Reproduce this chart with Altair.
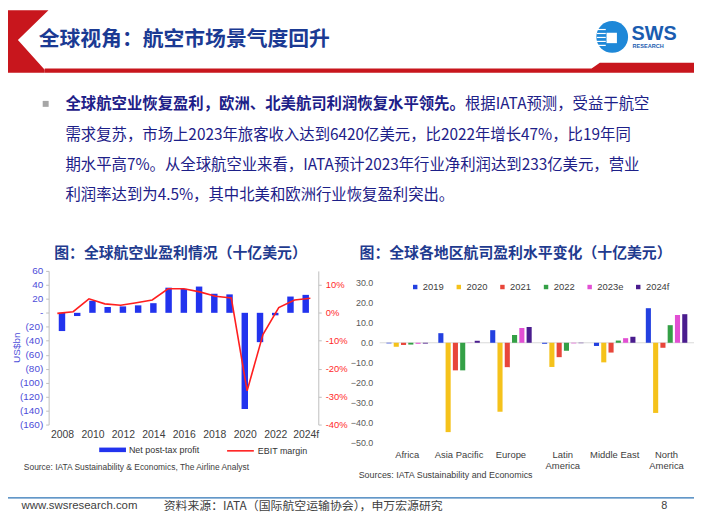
import altair as alt
import pandas as pd

# ---------------- data ----------------
years = list(range(2008, 2025))
net_profit = [-26.1, -4.6, 17.3, 8.3, 9.2, 10.7, 13.8, 36.0, 34.2, 37.6, 27.3, 26.4,
              -137.7, -42.0, -3.6, 23.3, 25.7]
ebit_margin = [-0.2, 0.4, 5.0, 3.2, 2.7, 3.6, 4.6, 8.6, 8.6, 7.5, 5.9, 5.3,
               -27.9, -7.8, 1.9, 4.6, 5.2]
year_ticks = [2008, 2010, 2012, 2014, 2016, 2018, 2020, 2022, 2024]
left_y_ticks = [60, 40, 20, 0, -20, -40, -60, -80, -100, -120, -140, -160]
right_pct_ticks = [10, 0, -10, -20, -30, -40]

regions = ["Africa", "Asia Pacific", "Europe", "Latin America", "Middle East", "North America"]
region_years = ["2019", "2020", "2021", "2022", "2023e", "2024f"]
p2019 = [-0.3, 4.8, 6.3, -0.5, -1.6, 17.3]
p2020 = [-2.0, -44.7, -34.5, -12.1, -9.8, -35.1]
p2021 = [-1.1, -13.8, -12.2, -7.2, -4.9, -2.5]
p2022 = [-0.9, -13.8, 3.9, -4.0, 1.1, 8.8]
p2023e = [-0.5, -0.1, 7.4, -0.3, 2.3, 13.9]
p2024f = [-0.4, 1.0, 7.9, -0.2, 3.0, 14.3]
region_y_ticks = [30, 20, 10, 0, -10, -20, -30, -40, -50]
region_colors = ["#2340e0", "#f5c21b", "#e8463a", "#34a046", "#e24fd3", "#4a1c8e"]

header_title = "全球视角：航空市场景气度回升"
para_bold = "全球航空业恢复盈利，欧洲、北美航司利润恢复水平领先。"
para_l1 = "根据IATA预测，受益于航空"
para_l2 = "需求复苏，市场上2023年旅客收入达到6420亿美元，比2022年增长47%，比19年同"
para_l3 = "期水平高7%。从全球航空业来看，IATA预计2023年行业净利润达到233亿美元，营业"
para_l4 = "利润率达到为4.5%，其中北美和欧洲行业恢复盈利突出。"
left_title = "图：全球航空业盈利情况（十亿美元）"
right_title = "图：全球各地区航司盈利水平变化（十亿美元）"
left_source = "Source: IATA Sustainability & Economics, The Airline Analyst"
right_source = "Sources: IATA Sustainability and Economics"
footer_url = "www.swsresearch.com"
footer_src = "资料来源：IATA（国际航空运输协会），申万宏源研究"
page_no = "8"

# ---------------- layout constants ----------------
W, H = 692, 506
CJK = "Noto Sans CJK SC"
LAT = "Liberation Sans"
NAVY = "#1d2088"
TITLE_BLUE = "#1f3b8f"

one = pd.DataFrame({"k": [0]})


def text_layer(s, x, y, size, color, weight="normal", align="left", font=CJK, baseline="middle"):
    return alt.Chart(one).mark_text(
        text=s, fontSize=size, color=color, fontWeight=weight, align=align,
        baseline=baseline, font=font
    ).encode(x=alt.value(x), y=alt.value(y))


def rule_layer(x1, x2, y1, y2, color, width):
    return alt.Chart(one).mark_rule(color=color, strokeWidth=width).encode(
        x=alt.value(x1), x2=alt.value(x2), y=alt.value(y1), y2=alt.value(y2))


def shape_layer(path, x, y, color, size=4):
    return alt.Chart(one).mark_point(
        shape=path, size=size, filled=True, color=color, opacity=1, strokeWidth=0
    ).encode(x=alt.value(x), y=alt.value(y))


# ---------------- left chart ----------------
df_left = pd.DataFrame({"Year": years, "Profit": net_profit, "EBIT": ebit_margin,
                        "s1": "Net post-tax profit", "s2": "EBIT margin"})

x_left_scale = alt.Scale(domain=[2007.45, 2024.5], range=[41, 313], nice=False, zero=False)

bars_left = alt.Chart(df_left).mark_bar(size=6.5).encode(
    x=alt.X("Year:Q", scale=x_left_scale,
            axis=alt.Axis(orient="bottom", offset=418 - H, values=year_ticks, format="d",
                          labelExpr="datum.value == 2024 ? '2024f' : datum.label",
                          ticks=False, domain=False, grid=False, labelPadding=5,
                          labelFontSize=10.5, labelColor="#404040", labelFont=LAT,
                          labelFlush=False, labelOverlap=False, title=None)),
    y=alt.Y("Profit:Q", stack=None,
            scale=alt.Scale(domain=[-160, 60], range=[418, 263], nice=False, zero=False),
            axis=alt.Axis(orient="left", offset=-41, values=left_y_ticks, grid=False,
                          labelExpr="datum.value == 0 ? '-\u00a0' : (datum.value < 0 ? '(' + format(-datum.value, 'd') + ')' : format(datum.value, 'd') + '\u00a0')",
                          labelFont=LAT, labelFontSize=10, labelColor="#4d4dd9",
                          tickSize=3, tickColor="#bfbfbf", domainColor="#bfbfbf",
                          labelPadding=3, labelOverlap=False, labelFlush=False,
                          title="US$bn", titleColor="#4d4dd9", titleFont=LAT,
                          titleFontSize=10, titleFontWeight="normal",
                          titleX=-32, titleY=340, titleAlign="center",
                          titleBaseline="middle", titleAngle=270)),
    color=alt.Color("s1:N", scale=alt.Scale(domain=["Net post-tax profit"], range=["#2233ee"]),
                    legend=alt.Legend(orient="none", legendX=92, legendY=430, title=None,
                                      symbolType="M-1,-0.17H1V0.17H-1Z", symbolSize=729,
                                      symbolStrokeWidth=0, labelFont=LAT, labelFontSize=9,
                                      labelColor="#333333", labelOffset=3, padding=0)),
)

line_left = alt.Chart(df_left).mark_line(strokeWidth=1.6).encode(
    x=alt.X("Year:Q", scale=x_left_scale, axis=None),
    y=alt.Y("EBIT:Q",
            scale=alt.Scale(domain=[-40, 15], range=[418, 263], nice=False, zero=False),
            axis=alt.Axis(orient="right", offset=313 - W, values=right_pct_ticks, grid=False,
                          labelExpr="datum.value + '%'", labelFont=LAT, labelFontSize=9.5,
                          labelColor="#ff2a2a", tickSize=3, tickColor="#bfbfbf",
                          domainColor="#bfbfbf", labelPadding=4, labelOverlap=False,
                          labelFlush=False, title=None)),
    color=alt.Color("s2:N", scale=alt.Scale(domain=["EBIT margin"], range=["#ff1f1f"]),
                    legend=alt.Legend(orient="none", legendX=220, legendY=430, title=None,
                                      symbolType="stroke", symbolSize=729,
                                      symbolStrokeWidth=1.6, labelFont=LAT, labelFontSize=9,
                                      labelColor="#333333", labelOffset=3, padding=0)),
)

# ---------------- right chart ----------------
rows = []
for yr, vals in zip(region_years, [p2019, p2020, p2021, p2022, p2023e, p2024f]):
    for reg, v in zip(regions, vals):
        rows.append({"Region": reg, "Year": yr, "Value": v})
df_right = pd.DataFrame(rows)

right_y_scale = alt.Scale(domain=[-50, 30], range=[436.3, 275], nice=False, zero=False)

zero_line = alt.Chart(one).mark_rule(color="#d9d9d9", strokeWidth=1).encode(
    y=alt.datum(0, scale=right_y_scale, axis=None),
    x=alt.value(375), x2=alt.value(W),
)

bars_right = alt.Chart(df_right).mark_bar().encode(
    x=alt.X("Region:N", sort=regions,
            scale=alt.Scale(domain=regions, range=[376.5, 690.5], paddingInner=0.2,
                            paddingOuter=0.1),
            axis=alt.Axis(orient="bottom", offset=436.3 - H, domain=False, ticks=False,
                          labelPadding=7, labelFont=LAT, labelFontSize=9.5,
                          labelColor="#404040", labelAngle=0, labelLineHeight=11.5,
                          labelExpr="datum.value == 'Latin America' ? ['Latin', 'America'] : (datum.value == 'North America' ? ['North', 'America'] : datum.label)",
                          title=None)),
    xOffset=alt.XOffset("Year:N", sort=region_years,
                        scale=alt.Scale(domain=region_years, paddingInner=0.3)),
    y=alt.Y("Value:Q", stack=None, scale=right_y_scale,
            axis=alt.Axis(orient="left", offset=-376, values=region_y_ticks, format=".1f",
                          domain=False, ticks=False, grid=False, labelPadding=8,
                          labelFont=LAT, labelFontSize=9, labelColor="#595959",
                          labelOverlap=False, labelFlush=False, title=None)),
    color=alt.Color("Year:N", scale=alt.Scale(domain=region_years, range=region_colors),
                    legend=alt.Legend(orient="none", legendX=406, legendY=274.5,
                                      direction="horizontal", title=None,
                                      symbolType="square", symbolSize=20,
                                      symbolStrokeWidth=0, labelFont=LAT,
                                      labelFontSize=9.5, labelColor="#404040",
                                      labelOffset=3, columnPadding=10, gridAlign="none",
                                      padding=0)),
)

# ---------------- slide decorations ----------------
deco = [
    shape_layer("M0,0 L40.8,0 L10,30 L37,60 L37,63 L0,63 Z", 0, 0, "#c8161d"),
    shape_layer("M37,58.7 L588.7,58.7 L597,53 L692,53 L692,63 L37,63 Z", 0, 0, "#c8161d"),
    text_layer(header_title, 31, 30, 21, "#1b3a93", weight="bold"),
    # logo
    alt.Chart(one).mark_point(shape="circle", size=1024, filled=True, color="#1e88d8",
                              opacity=1, strokeWidth=0).encode(x=alt.value(609.5), y=alt.value(27)),
    rule_layer(595, 603, 19.5, 19.5, "white", 1.2),
    rule_layer(594, 603, 23.5, 23.5, "white", 1.2),
    rule_layer(594, 603, 27.5, 27.5, "white", 1.2),
    rule_layer(594, 603, 31.5, 31.5, "white", 1.2),
    rule_layer(595, 603, 35.5, 35.5, "white", 1.2),
    shape_layer("square", 609, 28, "white", size=110),
    text_layer("SWS", 629, 24.5, 20, "#1a5cb0", weight="bold", font=LAT),
    text_layer("RESEARCH", 630, 36.5, 5.6, "#1a5cb0", weight="bold", font=LAT),
    # paragraph
    shape_layer("square", 38, 94.5, "#a6a6a6", size=36),
    text_layer(para_bold, 58, 95, 15.5, NAVY, weight="bold"),
    text_layer(para_l1, 461, 95, 15.5, NAVY),
    text_layer(para_l2, 58, 126, 15.5, NAVY),
    text_layer(para_l3, 58, 156, 15.5, NAVY),
    text_layer(para_l4, 58, 186, 15.5, NAVY),
    # chart titles and sources
    text_layer(left_title, 174, 245, 15, TITLE_BLUE, weight="bold", align="center"),
    text_layer(right_title, 512, 245, 15, TITLE_BLUE, weight="bold", align="center"),
    text_layer(left_source, 16, 460.7, 8.5, "#404040", font=LAT),
    text_layer(right_source, 353.7, 469.3, 9, "#404040", font=LAT),
    # footer
    rule_layer(0, W, 492, 492, "#2e75b6", 1.2),
    text_layer(footer_url, 13.7, 500.5, 11.5, "#404040", font=LAT),
    text_layer(footer_src, 157, 500.5, 12, "#404040"),
    text_layer(page_no, 662, 500.5, 11, "#404040", font=LAT, align="center"),
]

chart = alt.layer(
    *deco, bars_left, line_left, zero_line, bars_right
).resolve_scale(
    x="independent", y="independent", color="independent"
).resolve_axis(
    x="independent", y="independent"
).resolve_legend(
    color="independent"
).properties(
    width=W, height=H, autosize=alt.AutoSizeParams(type="none"), padding=0,
    background="white"
).configure_view(strokeWidth=0)

chart.save("out.html", embed_options={"renderer": "svg", "actions": False})
